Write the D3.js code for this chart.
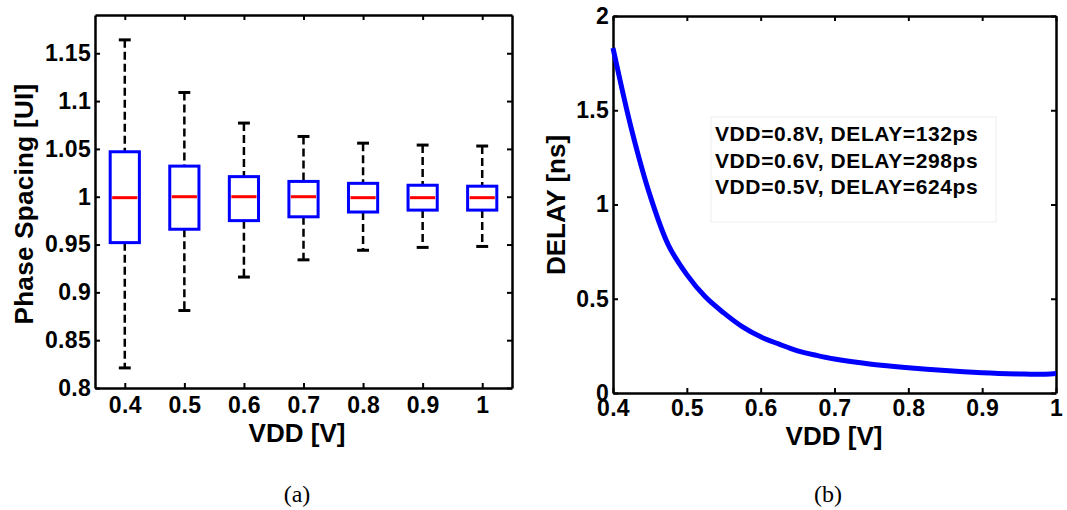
<!DOCTYPE html>
<html>
<head>
<meta charset="utf-8">
<script src="https://cdn.jsdelivr.net/npm/d3@7"></script>
<style>
  body { margin: 0; background: #fff; }
</style>
</head>
<body>
<svg width="1067" height="510"></svg>
<script>

//	box plot data (a)
var vddLabels = ["0.4", "0.5", "0.6", "0.7", "0.8", "0.9", "1"];
var whiskerHigh = [1.164, 1.109, 1.077, 1.063, 1.056, 1.054, 1.053];
var q3 = [1.047, 1.032, 1.021, 1.016, 1.014, 1.012, 1.011];
var median = [0.999, 1.000, 1.000, 1.000, 0.999, 0.999, 0.999];
var q1 = [0.952, 0.966, 0.975, 0.979, 0.984, 0.986, 0.986];
var whiskerLow = [0.821, 0.881, 0.916, 0.934, 0.944, 0.947, 0.948];
var phaseTicks = [0.8, 0.85, 0.9, 0.95, 1, 1.05, 1.1, 1.15];

//	delay curve data (b)
var vdd = [0.4, 0.425, 0.45, 0.475, 0.5, 0.525, 0.55, 0.575, 0.6, 0.625, 0.65, 0.675, 0.7, 0.75, 0.8, 0.85, 0.9, 0.95, 0.975, 1.0];
var delay = [1.83, 1.40, 1.05, 0.785, 0.628, 0.51, 0.425, 0.352, 0.298, 0.259, 0.224, 0.20, 0.18, 0.153, 0.134, 0.119, 0.108, 0.101, 0.099, 0.104];
var delayTicks = [0, 0.5, 1, 1.5, 2];
var vddTicks = [0.4, 0.5, 0.6, 0.7, 0.8, 0.9, 1];
var notes = ["VDD=0.8V, DELAY=132ps", "VDD=0.6V, DELAY=298ps", "VDD=0.5V, DELAY=624ps"];

var svg = d3.select("svg");
var font = "'Liberation Sans', Arial, sans-serif";

//	styles shared by both panels
function styleAxis(sel, labels) {
    sel.attr("font-size", 23).attr("font-family", font).attr("font-weight", "bold");
    sel.select(".domain").attr("stroke", "#000").attr("stroke-width", 2.5);
    sel.selectAll(".tick line").attr("stroke", "#000").attr("stroke-width", 2);
    sel.selectAll(".tick text")
        .attr("fill", "#000")
        .attr("font-size", 23)
        .attr("font-weight", "bold")
        .attr("letter-spacing", "0.3");
    if (!labels) sel.selectAll(".tick text").remove();
}

// ---------------- panel (a) ----------------
var xa = d3.scaleLinear().domain([0.5, 7.5]).range([95, 512]);
var ya = d3.scaleLinear().domain([0.8, 1.19]).range([388, 15]);
var idx = d3.range(vddLabels.length);

var ga = svg.append("g");

ga.append("g").attr("transform", "translate(0,388)")
    .call(d3.axisBottom(xa).tickValues(idx.map(function(i) { return i + 1; }))
        .tickFormat(function(d) { return vddLabels[d - 1]; })
        .tickSizeInner(-5).tickSizeOuter(0).tickPadding(9))
    .call(styleAxis, true);
ga.append("g").attr("transform", "translate(0,15)")
    .call(d3.axisTop(xa).tickValues(idx.map(function(i) { return i + 1; }))
        .tickSizeInner(-5).tickSizeOuter(0))
    .call(styleAxis, false);
ga.append("g").attr("transform", "translate(95,0)")
    .call(d3.axisLeft(ya).tickValues(phaseTicks).tickFormat(d3.format("~g"))
        .tickSizeInner(-5).tickSizeOuter(0).tickPadding(4))
    .call(styleAxis, true);
ga.append("g").attr("transform", "translate(512,0)")
    .call(d3.axisRight(ya).tickValues(phaseTicks)
        .tickSizeInner(-5).tickSizeOuter(0))
    .call(styleAxis, false);

var boxW = 0.49, capW = 0.2;
var boxes = ga.append("g").selectAll("g").data(idx).enter().append("g");

// whiskers
boxes.append("line")
    .attr("x1", function(i) { return xa(i + 1); })
    .attr("x2", function(i) { return xa(i + 1); })
    .attr("y1", function(i) { return ya(whiskerHigh[i]); })
    .attr("y2", function(i) { return ya(q3[i]); })
    .attr("stroke", "#000").attr("stroke-width", 2.5).attr("stroke-dasharray", "8,4");
boxes.append("line")
    .attr("x1", function(i) { return xa(i + 1); })
    .attr("x2", function(i) { return xa(i + 1); })
    .attr("y1", function(i) { return ya(q1[i]); })
    .attr("y2", function(i) { return ya(whiskerLow[i]); })
    .attr("stroke", "#000").attr("stroke-width", 2.5).attr("stroke-dasharray", "8,4");
// caps
[whiskerHigh, whiskerLow].forEach(function(arr) {
    boxes.append("line")
        .attr("x1", function(i) { return xa(i + 1 - capW / 2); })
        .attr("x2", function(i) { return xa(i + 1 + capW / 2); })
        .attr("y1", function(i) { return ya(arr[i]); })
        .attr("y2", function(i) { return ya(arr[i]); })
        .attr("stroke", "#000").attr("stroke-width", 3);
});
// box
boxes.append("rect")
    .attr("x", function(i) { return xa(i + 1 - boxW / 2); })
    .attr("width", function(i) { return xa(i + 1 + boxW / 2) - xa(i + 1 - boxW / 2); })
    .attr("y", function(i) { return ya(q3[i]); })
    .attr("height", function(i) { return ya(q1[i]) - ya(q3[i]); })
    .attr("fill", "#fff").attr("stroke", "#0000ff").attr("stroke-width", 3);
// median
boxes.append("line")
    .attr("x1", function(i) { return xa(i + 1 - boxW / 2) + 2; })
    .attr("x2", function(i) { return xa(i + 1 + boxW / 2) - 2; })
    .attr("y1", function(i) { return ya(median[i]); })
    .attr("y2", function(i) { return ya(median[i]); })
    .attr("stroke", "#ff0000").attr("stroke-width", 3);

ga.append("text")
    .attr("x", 297).attr("y", 442)
    .attr("text-anchor", "middle")
    .style("font-family", font).style("font-weight", "bold").style("font-size", "26px")
    .text("VDD [V]");
ga.append("text")
    .attr("transform", "translate(33,204) rotate(-90)")
    .attr("text-anchor", "middle")
    .style("font-family", font).style("font-weight", "bold").style("font-size", "26px")
    .style("letter-spacing", "0.3px")
    .text("Phase Spacing [UI]");

// ---------------- panel (b) ----------------
var xb = d3.scaleLinear().domain([0.4, 1]).range([613, 1056]);
var yb = d3.scaleLinear().domain([0, 2]).range([393, 16]);

var gb = svg.append("g");

gb.append("g").attr("transform", "translate(0,393)")
    .call(d3.axisBottom(xb).tickValues(vddTicks).tickFormat(d3.format("~g"))
        .tickSizeInner(-5).tickSizeOuter(0).tickPadding(7))
    .call(styleAxis, true);
gb.append("g").attr("transform", "translate(0,16)")
    .call(d3.axisTop(xb).tickValues(vddTicks).tickSizeInner(-5).tickSizeOuter(0))
    .call(styleAxis, false);
gb.append("g").attr("transform", "translate(613,0)")
    .call(d3.axisLeft(yb).tickValues(delayTicks).tickFormat(d3.format("~g"))
        .tickSizeInner(-5).tickSizeOuter(0).tickPadding(4))
    .call(styleAxis, true);
gb.append("g").attr("transform", "translate(1056,0)")
    .call(d3.axisRight(yb).tickValues(delayTicks).tickSizeInner(-5).tickSizeOuter(0))
    .call(styleAxis, false);

var line = d3.line()
    .x(function(d, i) { return xb(vdd[i]); })
    .y(function(d) { return yb(d); })
    .curve(d3.curveCatmullRom.alpha(0.5));

gb.append("path")
    .datum(delay)
    .attr("d", line)
    .attr("fill", "none")
    .attr("stroke", "#0000ff")
    .attr("stroke-width", 5);

// annotation box
gb.append("rect")
    .attr("x", 711).attr("y", 117).attr("width", 285).attr("height", 105)
    .attr("fill", "#fff").attr("stroke", "#eeeeee").attr("stroke-width", 1);
gb.append("g").selectAll("text").data(notes).enter().append("text")
    .attr("x", 715)
    .attr("y", function(d, i) { return 141 + i * 26.5; })
    .style("font-family", font).style("font-weight", "bold").style("font-size", "21px")
    .style("letter-spacing", "0.6px")
    .text(function(d) { return d; });

gb.append("text")
    .attr("x", 834).attr("y", 445)
    .attr("text-anchor", "middle")
    .style("font-family", font).style("font-weight", "bold").style("font-size", "26px")
    .text("VDD [V]");
gb.append("text")
    .attr("transform", "translate(565,205) rotate(-90)")
    .attr("text-anchor", "middle")
    .style("font-family", font).style("font-weight", "bold").style("font-size", "26px")
    .text("DELAY [ns]");

// captions
svg.selectAll(".caption").data(["(a)", "(b)"]).enter().append("text")
    .attr("class", "caption")
    .attr("x", function(d, i) { return i ? 828 : 297; })
    .attr("y", 502)
    .attr("text-anchor", "middle")
    .style("font-family", "'Liberation Serif', 'Times New Roman', serif")
    .style("font-size", "24px")
    .text(function(d) { return d; });

</script>
</body>
</html>
